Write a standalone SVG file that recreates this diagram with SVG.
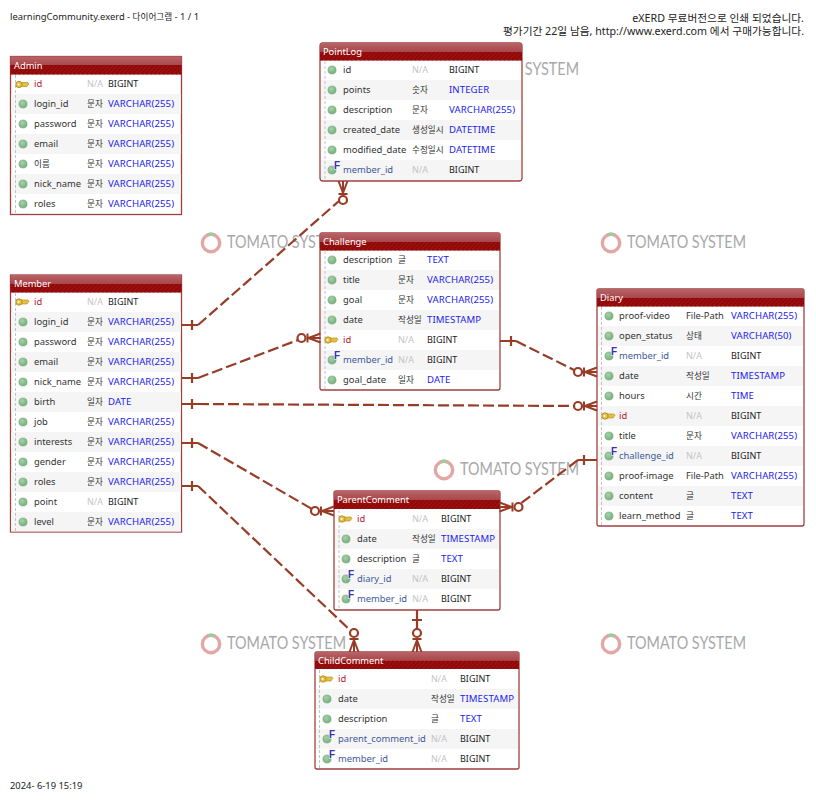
<svg xmlns="http://www.w3.org/2000/svg" width="816" height="802" viewBox="0 0 816 802">
<style>
text{font-family:"Noto Sans","Noto Sans CJK KR",sans-serif;font-size:9.4px;fill:#333}
g[id] > text{transform:translateY(-.6px)}
.box{fill:#fff;stroke:#a04040;stroke-width:1.3}
.band{fill:#f5f5f5}
.title{fill:#fff;font-size:9.3px}
.guide{stroke:#c4c4c4;stroke-width:1;stroke-dasharray:3 2;fill:none}
.key{fill:#b8202c}
.fk{fill:#3d5a9a}
.lg{font-size:8.6px;fill:#333}
.fp{font-size:9.3px}
.na{fill:#c4c4c4;font-size:9px}
.ty{fill:#2222ee;font-size:9.6px;letter-spacing:.1px}
.bi{fill:#222;font-size:9px}
.wmt{font-family:"Lato","Open Sans",sans-serif;font-size:17px;fill:#a8a8a8}
.wmr{fill:none;stroke:#e3a6a6;stroke-width:3.4}
.wmd{fill:none;stroke:#9ccb9c;stroke-width:3.4}
.top{font-size:9.4px;fill:#222}
.tk{font-size:8.6px;fill:#222}
.eval{font-size:10.7px;fill:#222;text-anchor:end}
.line{fill:none;stroke:#983c26;stroke-width:2.2}
.dash{fill:none;stroke:#983c26;stroke-width:2.2;stroke-dasharray:11 4}
g[id] > text.f{font-family:"Liberation Sans",sans-serif;font-size:10px;font-weight:bold;fill:#3a30b0;stroke:#fff;stroke-width:1;paint-order:stroke;transform:translate(.5px,-.8px)}
</style>
<defs>
<linearGradient id="gloss" x1="0" y1="0" x2="0" y2="1"><stop offset="0" stop-color="#b86468"/><stop offset="0.5" stop-color="#a8474b"/><stop offset="0.5" stop-color="#8f0606"/><stop offset="1" stop-color="#8f0606"/></linearGradient>
<pattern id="stripe" width="3" height="3" patternUnits="userSpaceOnUse" patternTransform="rotate(45)"><rect width="1.2" height="3" fill="#9c1414"/></pattern>
<radialGradient id="ball" cx="0.4" cy="0.35" r="0.7"><stop offset="0" stop-color="#a4d4a4"/><stop offset="1" stop-color="#72ac7c"/></radialGradient>
<g id="dot"><circle r="4.1" fill="url(#ball)" stroke="#78a080" stroke-width="0.5"/></g>
<g id="keyi"><path d="M-2 -2H6L7 -.5L6 .5L5 2H-2Z" fill="#e8c040" stroke="#a88420" stroke-width="0.6"/><circle cx="-3" cy="0" r="3.200" fill="#e8c040" stroke="#a88420" stroke-width="0.8"/><circle cx="-3.500" cy="0" r="1" fill="#fff"/></g>
<g id="wm"><circle cx="11" cy="0" r="8.700" class="wmr"/><path d="M8 -8.300A8.700 8.700 0 0 1 14 -8.300" class="wmd"/><text x="27" y="6" class="wmt" textLength="119" lengthAdjust="spacingAndGlyphs">TOMATO SYSTEM</text></g>
<g id="foot"><circle cx="-19" cy="0" r="4" fill="#fff" stroke="#983c26" stroke-width="2.2"/><path d="M-13 0H0M-12 0L0 -4.500M-12 0L0 4.500M-13 -4.500V4.500" fill="none" stroke="#983c26" stroke-width="2"/></g>
</defs>
<rect width="816" height="802" fill="#fff"/>
<text x="10" y="20" class="top">learningCommunity.exerd - <tspan class="tk">다이어그램</tspan> - 1 / 1</text>
<text x="804" y="21.500" class="eval">eXERD 무료버전으로 인쇄 되었습니다.</text>
<text x="804" y="35" class="eval">평가기간 22일 남음, http://www.exerd.com 에서 구매가능합니다.</text>
<text x="10" y="789" class="top">2024- 6-19 15:19</text>
<g id="watermarks">
<use href="#wm" x="200" y="243"/><use href="#wm" x="600" y="243"/><use href="#wm" x="433" y="470"/><use href="#wm" x="200" y="644"/><use href="#wm" x="600" y="644"/><use href="#wm" x="433" y="70"/>
</g>

<g id="Admin">
<rect class="box" x="10.500" y="56.500" width="171" height="158"/>
<rect x="10.500" y="56.500" width="171" height="18" fill="url(#gloss)"/><rect x="10.500" y="65.500" width="171" height="9" fill="url(#stripe)"/>
<text class="title" x="14" y="69.500">Admin</text>
<path class="band" d="M11 94h170v20H11zM11 134h170v20H11zM11 174h170v20H11z"/>
<path class="guide" d="M15.500 75V214"/>
<use href="#keyi" x="22" y="84.500"/><use href="#dot" x="23" y="104"/><use href="#dot" x="23" y="124"/><use href="#dot" x="23" y="144"/><use href="#dot" x="23" y="164"/><use href="#dot" x="23" y="184"/><use href="#dot" x="23" y="204"/>
<text x="34" y="87.500" class="key">id</text><text x="87" y="87.500" class="na">N/A</text><text x="108" y="87.500" class="bi">BIGINT</text>
<text x="34" y="107.500">login_id</text><text x="87" y="107.500" class="lg">문자</text><text x="108" y="107.500" class="ty">VARCHAR(255)</text>
<text x="34" y="127.500">password</text><text x="87" y="127.500" class="lg">문자</text><text x="108" y="127.500" class="ty">VARCHAR(255)</text>
<text x="34" y="147.500">email</text><text x="87" y="147.500" class="lg">문자</text><text x="108" y="147.500" class="ty">VARCHAR(255)</text>
<text x="34" y="167.500" class="lg">이름</text><text x="87" y="167.500" class="lg">문자</text><text x="108" y="167.500" class="ty">VARCHAR(255)</text>
<text x="34" y="187.500">nick_name</text><text x="87" y="187.500" class="lg">문자</text><text x="108" y="187.500" class="ty">VARCHAR(255)</text>
<text x="34" y="207.500">roles</text><text x="87" y="207.500" class="lg">문자</text><text x="108" y="207.500" class="ty">VARCHAR(255)</text>
</g>

<g id="PointLog">
<rect class="box" x="320" y="43" width="202" height="138" rx="3"/>
<path d="M320 60.500V46a3 3 0 0 1 3-3H519a3 3 0 0 1 3 3V60.500Z" fill="url(#gloss)"/><rect x="320" y="52" width="202" height="8.500" fill="url(#stripe)"/>
<text class="title" x="323" y="55.500">PointLog</text>
<path class="band" d="M321 80h200v20H321zM321 120h200v20H321zM321 160h200v20H321z"/>
<path class="guide" d="M325 61V180"/>
<use href="#dot" x="332" y="70"/><use href="#dot" x="332" y="90"/><use href="#dot" x="332" y="110"/><use href="#dot" x="332" y="130"/><use href="#dot" x="332" y="150"/><use href="#dot" x="332" y="170"/><text x="333.500" y="170" class="f">F</text>
<text x="343" y="73.500">id</text><text x="412" y="73.500" class="na">N/A</text><text x="449" y="73.500" class="bi">BIGINT</text>
<text x="343" y="93.500">points</text><text x="412" y="93.500" class="lg">숫자</text><text x="449" y="93.500" class="ty">INTEGER</text>
<text x="343" y="113.500">description</text><text x="412" y="113.500" class="lg">문자</text><text x="449" y="113.500" class="ty">VARCHAR(255)</text>
<text x="343" y="133.500">created_date</text><text x="412" y="133.500" class="lg">생성일시</text><text x="449" y="133.500" class="ty">DATETIME</text>
<text x="343" y="153.500">modified_date</text><text x="412" y="153.500" class="lg">수정일시</text><text x="449" y="153.500" class="ty">DATETIME</text>
<text x="343" y="173.500" class="fk">member_id</text><text x="412" y="173.500" class="na">N/A</text><text x="449" y="173.500" class="bi">BIGINT</text>
</g>

<g id="Challenge">
<rect class="box" x="320" y="233" width="180" height="157" rx="2"/>
<path d="M320 250.500V235a2 2 0 0 1 2-2H498a2 2 0 0 1 2 2V250.500Z" fill="url(#gloss)"/><rect x="320" y="242" width="180" height="8.500" fill="url(#stripe)"/>
<text class="title" x="323" y="245.500">Challenge</text>
<path class="band" d="M321 270h178v20H321zM321 310h178v20H321zM321 350h178v20H321z"/>
<path class="guide" d="M325 251V389"/>
<use href="#dot" x="332" y="260"/><use href="#dot" x="332" y="280"/><use href="#dot" x="332" y="300"/><use href="#dot" x="332" y="320"/><use href="#keyi" x="331" y="340"/><use href="#dot" x="332" y="360"/><use href="#dot" x="332" y="380"/><text x="333.500" y="360" class="f">F</text>
<text x="343" y="263.500">description</text><text x="398" y="263.500" class="lg">글</text><text x="427" y="263.500" class="ty">TEXT</text>
<text x="343" y="283.500">title</text><text x="398" y="283.500" class="lg">문자</text><text x="427" y="283.500" class="ty">VARCHAR(255)</text>
<text x="343" y="303.500">goal</text><text x="398" y="303.500" class="lg">문자</text><text x="427" y="303.500" class="ty">VARCHAR(255)</text>
<text x="343" y="323.500">date</text><text x="398" y="323.500" class="lg">작성일</text><text x="427" y="323.500" class="ty">TIMESTAMP</text>
<text x="343" y="343.500" class="key">id</text><text x="398" y="343.500" class="na">N/A</text><text x="427" y="343.500" class="bi">BIGINT</text>
<text x="343" y="363.500" class="fk">member_id</text><text x="398" y="363.500" class="na">N/A</text><text x="427" y="363.500" class="bi">BIGINT</text>
<text x="343" y="383.500">goal_date</text><text x="398" y="383.500" class="lg">일자</text><text x="427" y="383.500" class="ty">DATE</text>
</g>

<g id="Member">
<rect class="box" x="10.500" y="275" width="171" height="257"/>
<rect x="10.500" y="275" width="171" height="17.500" fill="url(#gloss)"/><rect x="10.500" y="284" width="171" height="8.500" fill="url(#stripe)"/>
<text class="title" x="14" y="287.500">Member</text>
<path class="band" d="M11 312h170v20H11zM11 352h170v20H11zM11 392h170v20H11zM11 432h170v20H11zM11 472h170v20H11zM11 512h170v19.500H11z"/>
<path class="guide" d="M15.500 293V531"/>
<use href="#keyi" x="22" y="302"/><use href="#dot" x="23" y="322"/><use href="#dot" x="23" y="342"/><use href="#dot" x="23" y="362"/><use href="#dot" x="23" y="382"/><use href="#dot" x="23" y="402"/><use href="#dot" x="23" y="422"/><use href="#dot" x="23" y="442"/><use href="#dot" x="23" y="462"/><use href="#dot" x="23" y="482"/><use href="#dot" x="23" y="502"/><use href="#dot" x="23" y="522"/>
<text x="34" y="305.500" class="key">id</text><text x="87" y="305.500" class="na">N/A</text><text x="108" y="305.500" class="bi">BIGINT</text>
<text x="34" y="325.500">login_id</text><text x="87" y="325.500" class="lg">문자</text><text x="108" y="325.500" class="ty">VARCHAR(255)</text>
<text x="34" y="345.500">password</text><text x="87" y="345.500" class="lg">문자</text><text x="108" y="345.500" class="ty">VARCHAR(255)</text>
<text x="34" y="365.500">email</text><text x="87" y="365.500" class="lg">문자</text><text x="108" y="365.500" class="ty">VARCHAR(255)</text>
<text x="34" y="385.500">nick_name</text><text x="87" y="385.500" class="lg">문자</text><text x="108" y="385.500" class="ty">VARCHAR(255)</text>
<text x="34" y="405.500">birth</text><text x="87" y="405.500" class="lg">일자</text><text x="108" y="405.500" class="ty">DATE</text>
<text x="34" y="425.500">job</text><text x="87" y="425.500" class="lg">문자</text><text x="108" y="425.500" class="ty">VARCHAR(255)</text>
<text x="34" y="445.500">interests</text><text x="87" y="445.500" class="lg">문자</text><text x="108" y="445.500" class="ty">VARCHAR(255)</text>
<text x="34" y="465.500">gender</text><text x="87" y="465.500" class="lg">문자</text><text x="108" y="465.500" class="ty">VARCHAR(255)</text>
<text x="34" y="485.500">roles</text><text x="87" y="485.500" class="lg">문자</text><text x="108" y="485.500" class="ty">VARCHAR(255)</text>
<text x="34" y="505.500">point</text><text x="87" y="505.500" class="na">N/A</text><text x="108" y="505.500" class="bi">BIGINT</text>
<text x="34" y="525.500">level</text><text x="87" y="525.500" class="lg">문자</text><text x="108" y="525.500" class="ty">VARCHAR(255)</text>
</g>

<g id="Diary">
<rect class="box" x="597" y="289" width="207" height="237" rx="2"/>
<path d="M597 306.500V291a2 2 0 0 1 2-2H802a2 2 0 0 1 2 2V306.500Z" fill="url(#gloss)"/><rect x="597" y="298" width="207" height="8.500" fill="url(#stripe)"/>
<text class="title" x="600" y="301.500">Diary</text>
<path class="band" d="M598 326h205v20H598zM598 366h205v20H598zM598 406h205v20H598zM598 446h205v20H598zM598 486h205v20H598z"/>
<path class="guide" d="M601.500 307V525"/>
<use href="#dot" x="609" y="316"/><use href="#dot" x="609" y="336"/><use href="#dot" x="609" y="356"/><use href="#dot" x="609" y="376"/><use href="#dot" x="609" y="396"/><use href="#keyi" x="608" y="416"/><use href="#dot" x="609" y="436"/><use href="#dot" x="609" y="456"/><use href="#dot" x="609" y="476"/><use href="#dot" x="609" y="496"/><use href="#dot" x="609" y="516"/><text x="610.500" y="356" class="f">F</text><text x="610.500" y="456" class="f">F</text>
<text x="619" y="319.500">proof-video</text><text x="686" y="319.500" class="fp">File-Path</text><text x="731" y="319.500" class="ty">VARCHAR(255)</text>
<text x="619" y="339.500">open_status</text><text x="686" y="339.500" class="lg">상태</text><text x="731" y="339.500" class="ty">VARCHAR(50)</text>
<text x="619" y="359.500" class="fk">member_id</text><text x="686" y="359.500" class="na">N/A</text><text x="731" y="359.500" class="bi">BIGINT</text>
<text x="619" y="379.500">date</text><text x="686" y="379.500" class="lg">작성일</text><text x="731" y="379.500" class="ty">TIMESTAMP</text>
<text x="619" y="399.500">hours</text><text x="686" y="399.500" class="lg">시간</text><text x="731" y="399.500" class="ty">TIME</text>
<text x="619" y="419.500" class="key">id</text><text x="686" y="419.500" class="na">N/A</text><text x="731" y="419.500" class="bi">BIGINT</text>
<text x="619" y="439.500">title</text><text x="686" y="439.500" class="lg">문자</text><text x="731" y="439.500" class="ty">VARCHAR(255)</text>
<text x="619" y="459.500" class="fk">challenge_id</text><text x="686" y="459.500" class="na">N/A</text><text x="731" y="459.500" class="bi">BIGINT</text>
<text x="619" y="479.500">proof-image</text><text x="686" y="479.500" class="fp">File-Path</text><text x="731" y="479.500" class="ty">VARCHAR(255)</text>
<text x="619" y="499.500">content</text><text x="686" y="499.500" class="lg">글</text><text x="731" y="499.500" class="ty">TEXT</text>
<text x="619" y="519.500">learn_method</text><text x="686" y="519.500" class="lg">글</text><text x="731" y="519.500" class="ty">TEXT</text>
</g>

<g id="ParentComment">
<rect class="box" x="334" y="491" width="166" height="119" rx="2"/>
<path d="M334 509V493a2 2 0 0 1 2-2H498a2 2 0 0 1 2 2V509Z" fill="url(#gloss)"/><rect x="334" y="500" width="166" height="9" fill="url(#stripe)"/>
<text class="title" x="337" y="504">ParentComment</text>
<path class="band" d="M335 529h164v20H335zM335 569h164v20H335z"/>
<path class="guide" d="M339 510V609"/>
<use href="#keyi" x="345" y="519"/><use href="#dot" x="346" y="539"/><use href="#dot" x="346" y="559"/><use href="#dot" x="346" y="579"/><use href="#dot" x="346" y="599"/><text x="347.500" y="579" class="f">F</text><text x="347.500" y="599" class="f">F</text>
<text x="357" y="522.500" class="key">id</text><text x="412" y="522.500" class="na">N/A</text><text x="441" y="522.500" class="bi">BIGINT</text>
<text x="357" y="542.500">date</text><text x="412" y="542.500" class="lg">작성일</text><text x="441" y="542.500" class="ty">TIMESTAMP</text>
<text x="357" y="562.500">description</text><text x="412" y="562.500" class="lg">글</text><text x="441" y="562.500" class="ty">TEXT</text>
<text x="357" y="582.500" class="fk">diary_id</text><text x="412" y="582.500" class="na">N/A</text><text x="441" y="582.500" class="bi">BIGINT</text>
<text x="357" y="602.500" class="fk">member_id</text><text x="412" y="602.500" class="na">N/A</text><text x="441" y="602.500" class="bi">BIGINT</text>
</g>

<g id="ChildComment">
<rect class="box" x="315" y="652" width="204" height="117" rx="2"/>
<path d="M315 669V654a2 2 0 0 1 2-2H517a2 2 0 0 1 2 2V669Z" fill="url(#gloss)"/><rect x="315" y="660.500" width="204" height="8.500" fill="url(#stripe)"/>
<text class="title" x="318" y="664.500">ChildComment</text>
<path class="band" d="M316 689h202v20H316zM316 729h202v20H316z"/>
<path class="guide" d="M319.500 670V768"/>
<use href="#keyi" x="326" y="679"/><use href="#dot" x="327" y="699"/><use href="#dot" x="327" y="719"/><use href="#dot" x="327" y="739"/><use href="#dot" x="327" y="759"/><text x="328.500" y="739" class="f">F</text><text x="328.500" y="759" class="f">F</text>
<text x="338" y="682.500" class="key">id</text><text x="431" y="682.500" class="na">N/A</text><text x="460" y="682.500" class="bi">BIGINT</text>
<text x="338" y="702.500">date</text><text x="431" y="702.500" class="lg">작성일</text><text x="460" y="702.500" class="ty">TIMESTAMP</text>
<text x="338" y="722.500">description</text><text x="431" y="722.500" class="lg">글</text><text x="460" y="722.500" class="ty">TEXT</text>
<text x="338" y="742.500" class="fk">parent_comment_id</text><text x="431" y="742.500" class="na">N/A</text><text x="460" y="742.500" class="bi">BIGINT</text>
<text x="338" y="762.500" class="fk">member_id</text><text x="431" y="762.500" class="na">N/A</text><text x="460" y="762.500" class="bi">BIGINT</text>
</g>

<g id="connectors">
<g id="c1"><path class="line" d="M182 325H198M192 320V330"/><path class="dash" d="M198 325L339 201"/><use href="#foot" transform="translate(343 181) rotate(-90)"/></g>
<g id="c2"><path class="line" d="M182 378H198M192 373V383"/><path class="dash" d="M198 378L298 340"/><use href="#foot" transform="translate(320.500 338)"/></g>
<g id="c3"><path class="line" d="M182 404H198M192 399V409"/><path class="dash" d="M198 404L574 406"/><use href="#foot" transform="translate(597 406)"/></g>
<g id="c4"><path class="line" d="M500 341H516M511 336V346"/><path class="dash" d="M516 341L574 370"/><use href="#foot" transform="translate(597 372)"/></g>
<g id="c5"><path class="line" d="M182 443H198M192 438V448"/><path class="dash" d="M198 443L312 509"/><use href="#foot" transform="translate(334 511)"/></g>
<g id="c6"><path class="line" d="M182 486H198M192 481V491"/><path class="dash" d="M198 486L351 631"/><use href="#foot" transform="translate(354 652) rotate(90)"/></g>
<g id="c7"><path class="line" d="M417 610V630M412 620H422"/><use href="#foot" transform="translate(417 652) rotate(90)"/></g>
<g id="c8"><path class="line" d="M597 460H578M584 455V465"/><path class="dash" d="M578 460L520 504"/><use href="#foot" transform="translate(499.500 507) rotate(180)"/></g>
</g>
</svg>
